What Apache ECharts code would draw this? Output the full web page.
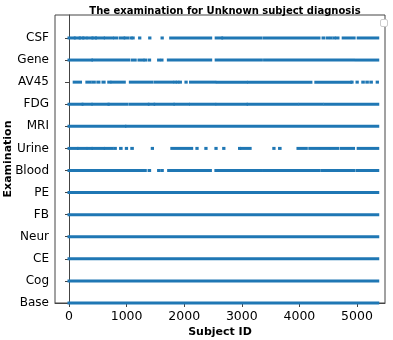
<!DOCTYPE html>
<html>
<head>
<meta charset="utf-8">
<script src="https://cdn.jsdelivr.net/npm/echarts@6/dist/echarts.min.js"></script>
<style>
  html, body { margin: 0; padding: 0; background: #fff; }
  #chart { width: 393px; height: 340px; }
</style>
</head>
<body>
<div id="chart"></div>
<script>
// examinations, bottom to top
const exams = ['Base', 'Cog', 'CE', 'Neur', 'FB', 'PE', 'Blood', 'Urine', 'MRI', 'FDG', 'AV45', 'Gene', 'CSF'];
const xTicks = [0, 1000, 2000, 3000, 4000, 5000];

// runs of subject IDs that have the examination [from, to]
const baseRuns = [[0, 5360]];
const cogRuns = [[0, 5360]];
const ceRuns = [[0, 5360]];
const neurRuns = [[0, 5360]];
const fbRuns = [[0, 5360]];
const peRuns = [[0, 5360]];
const bloodRuns = [[0, 400], [425, 1040], [1080, 1300], [1315, 1325], [1390, 1400], [1555, 1560], [1610, 1620],
  [1730, 2455], [2550, 3340], [3380, 4340], [4390, 4655], [4690, 4945], [5000, 5360]];
const urineRuns = [[0, 140], [165, 295], [330, 390], [415, 600], [630, 750], [795, 805], [895, 905], [995, 1000],
  [1090, 1100], [1445, 1450], [1785, 2130], [2220, 2225], [2375, 2380], [2550, 2555], [2685, 2690], [2960, 2965],
  [2990, 3145], [3555, 3560], [3655, 3665], [3975, 4120], [4180, 4335], [4380, 4510], [4555, 4670], [4730, 4940],
  [5020, 5360]];
const mriRuns = [[0, 970], [1000, 5360]];
const fdgRuns = [[0, 225], [245, 385], [415, 680], [695, 1010], [1065, 1370], [1395, 1470], [1495, 1810],
  [1840, 2070], [2110, 2530], [2570, 3080], [3110, 3965], [4010, 4395], [4440, 5360]];
const av45Runs = [[90, 200], [310, 370], [420, 440], [500, 520], [590, 610], [690, 710], [745, 960], [1065, 1440],
  [1495, 1800], [1840, 1845], [1880, 1890], [1925, 1935], [2030, 2035], [2110, 2530], [2575, 3080], [3120, 4200],
  [4285, 4890], [4910, 4915], [5000, 5005], [5100, 5110], [5170, 5180], [5240, 5250], [5350, 5355]];
const geneRuns = [[0, 390], [415, 1035], [1095, 1150], [1215, 1225], [1275, 1285], [1320, 1330], [1390, 1400],
  [1555, 1560], [1605, 1615], [1725, 2460], [2555, 3340], [3395, 4940], [4990, 5360]];
const csfRuns = [[0, 90], [110, 180], [195, 240], [255, 295], [330, 400], [415, 460], [475, 600], [630, 750],
  [790, 830], [890, 950], [975, 1020], [1075, 1080], [1110, 1115], [1225, 1230], [1400, 1405], [1615, 1620],
  [1765, 2460], [2555, 2650], [2670, 3330], [3385, 4340], [4410, 4420], [4480, 4490], [4540, 4550], [4600, 4610],
  [4650, 4670], [4760, 4950], [5020, 5360]];

const allRuns = [baseRuns, cogRuns, ceRuns, neurRuns, fbRuns, peRuns, bloodRuns, urineRuns,
  mriRuns, fdgRuns, av45Runs, geneRuns, csfRuns];

const data = [];
allRuns.forEach((runs, row) => {
  runs.forEach(r => data.push([r[0], r[1], row]));
});

const chart = echarts.init(document.getElementById('chart'));
const blue = '#1f77b4';
const font = 'DejaVu Sans';

chart.setOption({
  animation: false,
  title: {
    text: 'The examination for Unknown subject diagnosis',
    left: 220, top: 1, textAlign: 'center',
    textStyle: { fontFamily: font, fontSize: 10, fontWeight: 'bold', color: '#000' }
  },
  grid: {
    left: 55, right: 8, top: 15, bottom: 37,
    outerBoundsMode: 'none', containLabel: false,
    show: true, borderColor: '#444', borderWidth: 1
  },
  graphic: [{
    type: 'rect', left: 380, top: 19,
    shape: { width: 7, height: 7, r: 1.5 },
    style: { fill: '#fff', stroke: '#ccc', lineWidth: 1 }
  }],
  xAxis: {
    type: 'value', min: -243, max: 5486,
    name: 'Subject ID', nameLocation: 'middle', nameGap: 24, nameMoveOverlap: false,
    nameTextStyle: { fontFamily: font, fontSize: 11, fontWeight: 'bold', color: '#000' },
    splitLine: { show: false },
    axisLine: { show: true, lineStyle: { color: '#444' } },
    axisTick: { show: true, customValues: xTicks, length: 4, lineStyle: { color: '#444' } },
    axisLabel: {
      customValues: xTicks, formatter: v => String(v),
      fontFamily: font, fontSize: 12.5, color: '#000', margin: 7
    }
  },
  yAxis: {
    type: 'value', min: 0, max: 13.04,
    name: 'Examination', nameLocation: 'middle', nameGap: 41, nameMoveOverlap: false,
    nameTextStyle: { fontFamily: font, fontSize: 11, fontWeight: 'bold', color: '#000' },
    splitLine: { show: false },
    axisLine: { show: true, lineStyle: { color: '#444' } },
    axisTick: { show: true, customValues: exams.map((e, i) => i), length: 4, lineStyle: { color: '#444' } },
    axisLabel: {
      customValues: exams.map((e, i) => i),
      formatter: v => exams[Math.round(v)] || '',
      fontFamily: font, fontSize: 12, color: '#000', margin: 6
    }
  },
  series: [{
    type: 'custom',
    data: data,
    encode: { x: [0, 1], y: 2 },
    renderItem: (params, api) => {
      const row = api.value(2);
      const p0 = api.coord([api.value(0), row]);
      const p1 = api.coord([api.value(1), row]);
      const h = 3;
      return {
        type: 'rect',
        shape: { x: p0[0] - 1.5, y: p0[1] - h / 2, width: Math.max(p1[0] - p0[0] + 3, 3), height: h },
        style: { fill: blue }
      };
    }
  }]
});
</script>
</body>
</html>
